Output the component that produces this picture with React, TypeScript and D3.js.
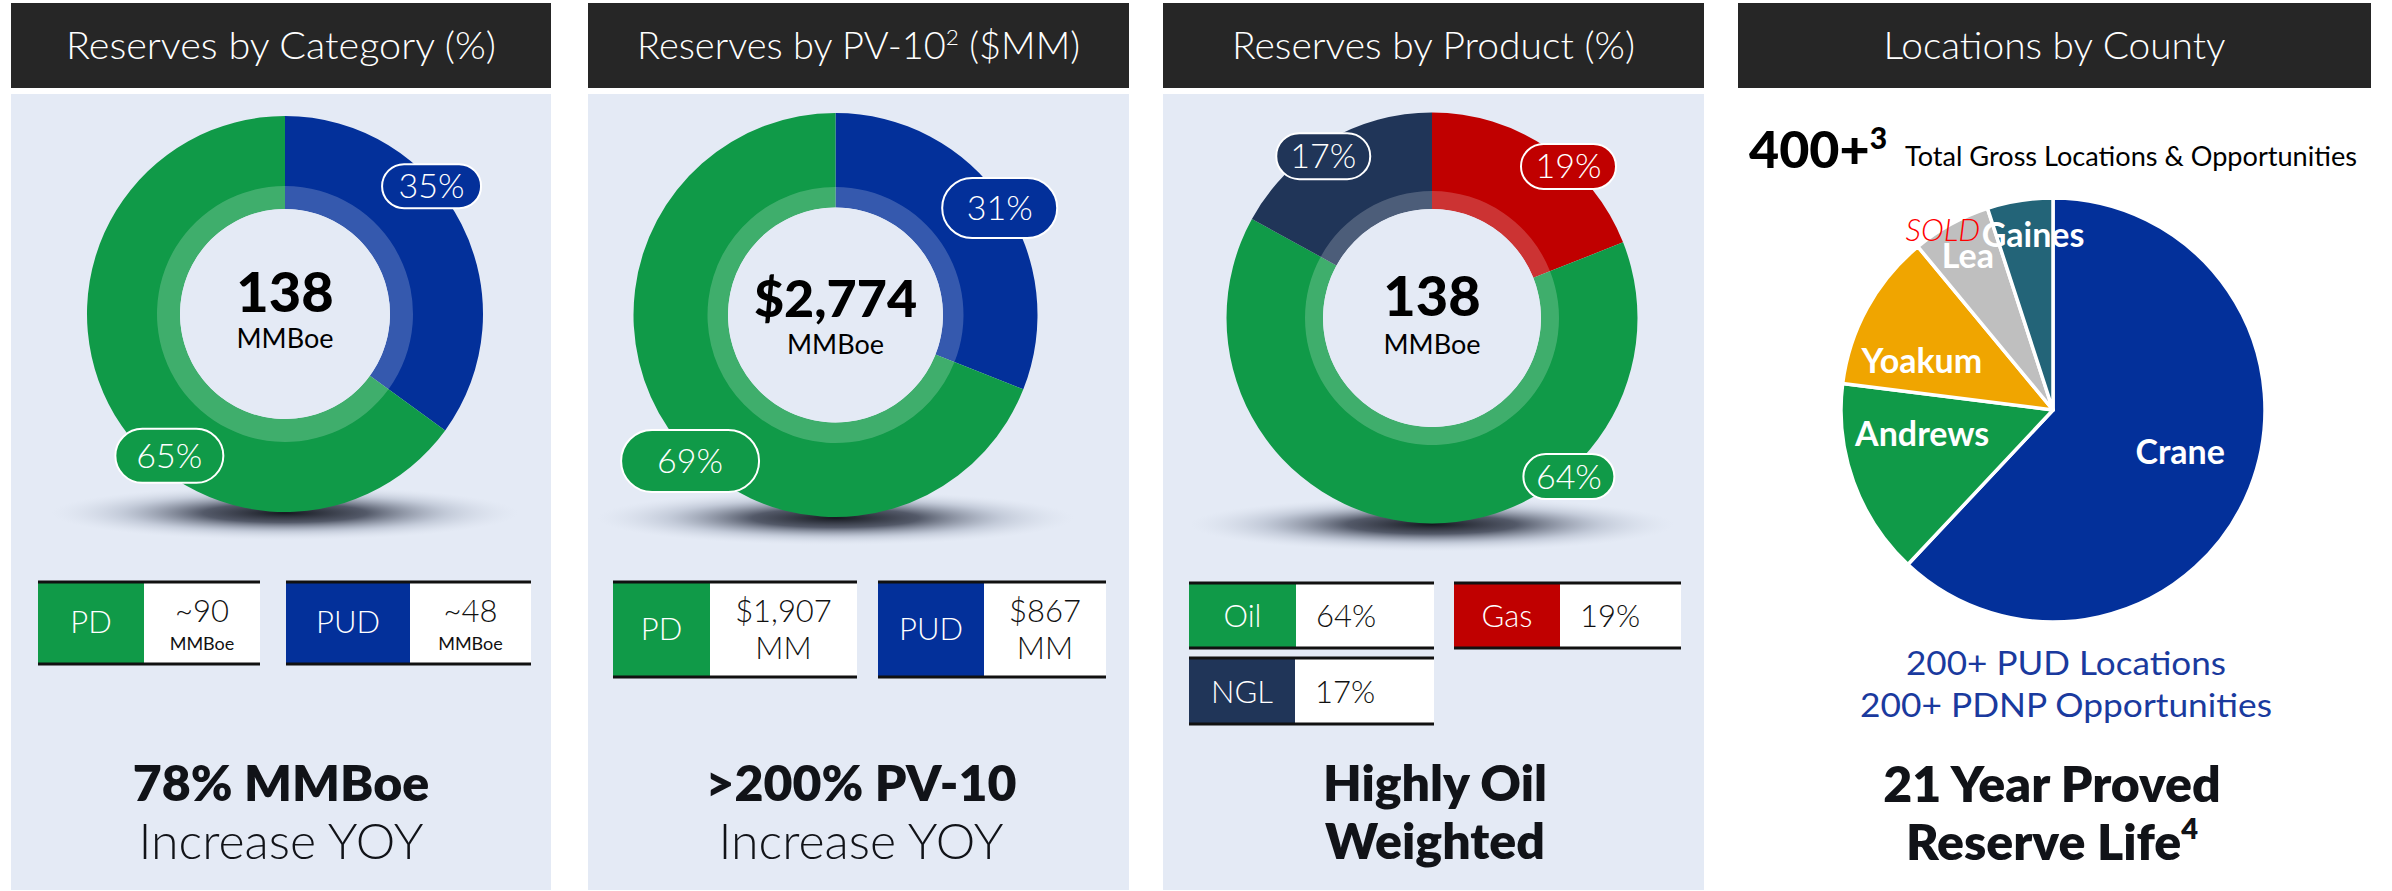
import React from "react";
import * as d3 from "d3";

// ---------- DATA ----------
const categoryNames = ["PUD", "PD"];
const categoryValues = [35, 65];
const pv10Names = ["PUD", "PD"];
const pv10Values = [31, 69];
const productNames = ["Gas", "Oil", "NGL"];
const productValues = [19, 64, 17];
const countyNames = ["Crane", "Andrews", "Yoakum", "Lea", "Gaines"];
const countyValues = [62, 15, 12, 6, 5];

const categoryLegendNames = ["PD", "PUD"];
const categoryLegendValues = ["~90", "~48"];
const categoryLegendUnits = ["MMBoe", "MMBoe"];
const pv10LegendNames = ["PD", "PUD"];
const pv10LegendValues = ["$1,907", "$867"];
const pv10LegendUnits = ["MM", "MM"];
const productLegendNames = ["Oil", "Gas", "NGL"];
const productLegendValues = ["64%", "19%", "17%"];

const titles = ["Reserves by Category (%)", "Reserves by PV-10", "Reserves by Product (%)", "Locations by County"];
const centerValues = ["138", "$2,774", "138"];
const centerUnit = "MMBoe";
const bottomLines = [
  ["78% MMBoe", "Increase YOY"],
  [">200% PV-10", "Increase YOY"],
  ["Highly Oil", "Weighted"],
  ["21 Year Proved", "Reserve Life"],
];
const locationsHeadline = "400+";
const locationsText = "Total Gross  Locations & Opportunities";
const locationsLines = ["200+ PUD Locations", "200+ PDNP Opportunities"];

// ---------- STYLE ----------
const C = {
  green: "#109A48",
  blue: "#03309A",
  red: "#C00000",
  navy: "#203558",
  orange: "#F0A500",
  gray: "#BFBFBF",
  teal: "#236478",
  header: "#262626",
  panel: "#E4EAF5",
  text: "#111318",
  sub: "#1A3A9E",
};
const FONT = "Lato, 'Open Sans', sans-serif";
const colorMap: Record<string, string> = {
  PUD: C.blue, PD: C.green, Gas: C.red, Oil: C.green, NGL: C.navy,
  Crane: C.blue, Andrews: C.green, Yoakum: C.orange, Lea: C.gray, Gaines: C.teal,
};

const panels = [
  { x: 11, w: 540, bg: C.panel },
  { x: 588, w: 541, bg: C.panel },
  { x: 1163, w: 541, bg: C.panel },
  { x: 1738, w: 633, bg: "#FFFFFF" },
];
const titleWidths = [430, 443, 403, 342];

type DonutCfg = {
  cx: number; cy: number; R: number; r: number; ring: number;
  names: string[]; values: number[]; center: string;
  valueBase: number; valueSize: number; unitBase: number;
  pills: { a: number; d: number; w: number; h: number }[];
};

const donuts: DonutCfg[] = [
  {
    cx: 285, cy: 314, R: 198, r: 105, ring: 128, names: categoryNames, values: categoryValues,
    center: centerValues[0], valueBase: 312, valueSize: 56, unitBase: 348,
    pills: [{ a: 48.9, d: 194.5, w: 99, h: 44 }, { a: 219.2, d: 183, w: 108, h: 54 }],
  },
  {
    cx: 835.5, cy: 315, R: 202, r: 107.5, ring: 128, names: pv10Names, values: pv10Values,
    center: centerValues[1], valueBase: 317, valueSize: 52, unitBase: 354,
    pills: [{ a: 56.9, d: 196, w: 115, h: 60 }, { a: 224.9, d: 206, w: 138, h: 62 }],
  },
  {
    cx: 1432, cy: 318, R: 205.5, r: 109, ring: 127, names: productNames, values: productValues,
    center: centerValues[2], valueBase: 316, valueSize: 56, unitBase: 354,
    pills: [{ a: 42, d: 204, w: 95, h: 45 }, { a: 139.2, d: 209.5, w: 91, h: 45 }, { a: 326.1, d: 195, w: 94, h: 46 }],
  },
];

const rad = (deg: number) => (deg * Math.PI) / 180;

function Donut({ cfg, idx }: { cfg: DonutCfg; idx: number }) {
  const pie = d3.pie<number>().sort(null).value((v) => v);
  const arcs = pie(cfg.values);
  const outer = d3.arc<d3.PieArcDatum<number>>().innerRadius(cfg.r).outerRadius(cfg.R);
  const ring = d3.arc<d3.PieArcDatum<number>>().innerRadius(cfg.r).outerRadius(cfg.ring);
  const gid = `shadow${idx}`;
  return (
    <g>
      <defs>
        <radialGradient id={gid} cx="50%" cy="50%" r="50%">
          <stop offset="0%" stopColor="#15181f" stopOpacity={1} />
          <stop offset="35%" stopColor="#3a4050" stopOpacity={0.85} />
          <stop offset="70%" stopColor="#8a94a8" stopOpacity={0.35} />
          <stop offset="100%" stopColor="#c8d0de" stopOpacity={0} />
        </radialGradient>
      </defs>
      <ellipse cx={cfg.cx} cy={cfg.cy + cfg.R + 1} rx={cfg.R * 1.18} ry={27} fill={`url(#${gid})`} />
      <g transform={`translate(${cfg.cx},${cfg.cy})`}>
        {arcs.map((a, i) => (
          <path key={"o" + i} d={outer(a) || ""} fill={colorMap[cfg.names[i]]} />
        ))}
        {arcs.map((a, i) => (
          <path key={"r" + i} d={ring(a) || ""} fill="#FFFFFF" fillOpacity={0.2} />
        ))}
        <circle r={cfg.r} fill={C.panel} />
        {arcs.map((a, i) => {
          const p = cfg.pills[i];
          const [x, y] = d3.pointRadial(rad(p.a), p.d);
          return (
            <g key={"p" + i} transform={`translate(${x},${y})`}>
              <rect x={-p.w / 2} y={-p.h / 2} width={p.w} height={p.h} rx={p.h / 2} ry={p.h / 2}
                fill={colorMap[cfg.names[i]]} stroke="#FFFFFF" strokeWidth={2} />
              <text y={12} textAnchor="middle" fill="#FFFFFF" fontFamily={FONT} fontWeight={300} fontSize={34}>
                {`${cfg.values[i]}%`}
              </text>
            </g>
          );
        })}
      </g>
      <text x={cfg.cx} y={cfg.valueBase} textAnchor="middle" fontFamily={FONT} fontWeight={900}
        fontSize={cfg.valueSize} fill="#000">{cfg.center}</text>
      <text x={cfg.cx} y={cfg.unitBase} textAnchor="middle" fontFamily={FONT} fontWeight={400}
        fontSize={27} fill="#000">{centerUnit}</text>
    </g>
  );
}

function LegendBox({ x0, x1, x2, y0, y1, color, children }:
  { x0: number; x1: number; x2: number; y0: number; y1: number; color: string; children?: any }) {
  return (
    <g>
      <rect x={x0} y={y0} width={x1 - x0} height={y1 - y0} fill={color} />
      <rect x={x1} y={y0} width={x2 - x1} height={y1 - y0} fill="#FFFFFF" />
      <rect x={x0} y={y0 - 1.5} width={x2 - x0} height={3} fill="#111" />
      <rect x={x0} y={y1 - 1.5} width={x2 - x0} height={3} fill="#111" />
      {children}
    </g>
  );
}

export default function App() {
  const W = 2392, H = 891;

  // county pie
  const pcx = 2053, pcy = 410, pR = 212;
  const cpie = d3.pie<number>().sort(null).value((v) => v)(countyValues);
  const carc = d3.arc<d3.PieArcDatum<number>>().innerRadius(0).outerRadius(pR);
  const countyLabelPos = [
    { a: 108.3, d: 134 },
    { a: 259.6, d: 133 },
    { a: 290.5, d: 140 },
    { a: 331.1, d: 176 },
    { a: 353.5, d: 176 },
  ];

  const nameStyle = { fontFamily: FONT, fontWeight: 300, fontSize: 31, fill: "#FFFFFF" } as const;
  const valStyle = { fontFamily: FONT, fontWeight: 400, fontSize: 31, fill: "#111" } as const;

  const cat = [
    { x0: 38, x1: 144, x2: 260 },
    { x0: 286, x1: 410, x2: 531 },
  ];
  const pv = [
    { x0: 613, x1: 710, x2: 857 },
    { x0: 878, x1: 984, x2: 1106 },
  ];
  const prod = [
    { x0: 1189, x1: 1296, x2: 1434, y0: 583, y1: 648, nb: 627 },
    { x0: 1454, x1: 1560, x2: 1681, y0: 583, y1: 648, nb: 627 },
    { x0: 1189, x1: 1295, x2: 1434, y0: 658, y1: 724, nb: 703 },
  ];

  const gainesPos = d3.pointRadial(rad(countyLabelPos[4].a), countyLabelPos[4].d);
  const boldSize = 50;

  return (
    <svg width={W} height={H} style={{ position: "absolute", left: 0, top: 0, background: "#FFFFFF" }}>
      <rect width={W} height={H} fill="#FFFFFF" />
      {panels.map((p, i) => (
        <g key={i}>
          <rect x={p.x} y={3} width={p.w} height={85} fill={C.header} />
          <rect x={p.x} y={94} width={p.w} height={796} fill={p.bg} />
          <text x={p.x + p.w / 2} y={59} textAnchor="middle" fill="#FFFFFF" fontFamily={FONT}
            fontWeight={300} fontSize={37} textLength={titleWidths[i]} lengthAdjust="spacingAndGlyphs">
            {titles[i]}
            {i === 1 && (
              <>
                <tspan fontSize={22} dy={-14}>2</tspan>
                <tspan dy={14}> ($MM)</tspan>
              </>
            )}
          </text>
        </g>
      ))}

      {donuts.map((d, i) => <Donut key={i} cfg={d} idx={i} />)}

      {/* Panel 1 legend */}
      {cat.map((b, i) => (
        <LegendBox key={i} {...b} y0={582} y1={664} color={colorMap[categoryLegendNames[i]]}>
          <text x={(b.x0 + b.x1) / 2} y={633} textAnchor="middle" {...nameStyle}>{categoryLegendNames[i]}</text>
          <text x={(b.x1 + b.x2) / 2} y={622} textAnchor="middle" {...valStyle} fontWeight={300}>{categoryLegendValues[i]}</text>
          <text x={(b.x1 + b.x2) / 2} y={650} textAnchor="middle" {...valStyle} fontSize={18}>{categoryLegendUnits[i]}</text>
        </LegendBox>
      ))}

      {/* Panel 2 legend */}
      {pv.map((b, i) => (
        <LegendBox key={i} {...b} y0={582} y1={677} color={colorMap[pv10LegendNames[i]]}>
          <text x={(b.x0 + b.x1) / 2} y={640} textAnchor="middle" {...nameStyle}>{pv10LegendNames[i]}</text>
          <text x={(b.x1 + b.x2) / 2} y={622} textAnchor="middle" {...valStyle} fontWeight={300}>{pv10LegendValues[i]}</text>
          <text x={(b.x1 + b.x2) / 2} y={659} textAnchor="middle" {...valStyle} fontWeight={300}>{pv10LegendUnits[i]}</text>
        </LegendBox>
      ))}

      {/* Panel 3 legend */}
      {prod.map((b, i) => (
        <LegendBox key={i} x0={b.x0} x1={b.x1} x2={b.x2} y0={b.y0} y1={b.y1}
          color={colorMap[productLegendNames[i]]}>
          <text x={(b.x0 + b.x1) / 2} y={b.nb} textAnchor="middle" {...nameStyle}>{productLegendNames[i]}</text>
          <text x={b.x1 + 20} y={b.nb} textAnchor="start" {...valStyle} fontWeight={300}>{productLegendValues[i]}</text>
        </LegendBox>
      ))}

      {/* Bottom texts */}
      {[281, 861, 1435].map((cx, i) => (
        <g key={i}>
          <text x={cx} y={801} textAnchor="middle" fontFamily={FONT} fontWeight={800} fontSize={boldSize}
            fill={C.text}>{bottomLines[i][0]}</text>
          <text x={cx} y={859} textAnchor="middle" fontFamily={FONT} fontWeight={i === 2 ? 800 : 300}
            fontSize={boldSize} fill={C.text}>{bottomLines[i][1]}</text>
        </g>
      ))}
      <text x={2052} y={802} textAnchor="middle" fontFamily={FONT} fontWeight={800} fontSize={boldSize}
        fill={C.text}>{bottomLines[3][0]}</text>
      <text x={2052} y={860} textAnchor="middle" fontFamily={FONT} fontWeight={800} fontSize={boldSize}
        fill={C.text}>{bottomLines[3][1]}<tspan fontSize={29} dy={-21}>4</tspan></text>

      {/* Panel 4 */}
      <text x={1749} y={168} fontFamily={FONT} fontWeight={900} fontSize={52} fill="#000">
        {locationsHeadline}<tspan fontSize={30} dy={-19}>3</tspan>
      </text>
      <text x={1905} y={166} fontFamily={FONT} fontWeight={400} fontSize={27} fill="#000"
        textLength={452} lengthAdjust="spacingAndGlyphs">{locationsText}</text>

      <g transform={`translate(${pcx},${pcy})`}>
        {cpie.map((a, i) => (
          <path key={i} d={carc(a) || ""} fill={colorMap[countyNames[i]]} stroke="#FFFFFF" strokeWidth={3.5}
            strokeLinejoin="round" />
        ))}
        {cpie.map((a, i) => {
          const [x, y] = d3.pointRadial(rad(countyLabelPos[i].a), countyLabelPos[i].d);
          return (
            <text key={"l" + i} x={x} y={y + 12} textAnchor="middle" fontFamily={FONT} fontWeight={700}
              fontSize={34} fill="#FFFFFF">{countyNames[i]}</text>
          );
        })}
        <text x={gainesPos[0] - 53} y={gainesPos[1] + 6} textAnchor="end" fontFamily={FONT} fontStyle="italic"
          fontWeight={300} fontSize={31} fill="#FF0000">SOLD</text>
      </g>

      {locationsLines.map((t, i) => (
        <text key={i} x={2066} y={675 + i * 42} textAnchor="middle" fontFamily={FONT} fontWeight={400}
          fontSize={32} fill={C.sub} textLength={i === 0 ? 320 : 412} lengthAdjust="spacingAndGlyphs">{t}</text>
      ))}
    </svg>
  );
}
